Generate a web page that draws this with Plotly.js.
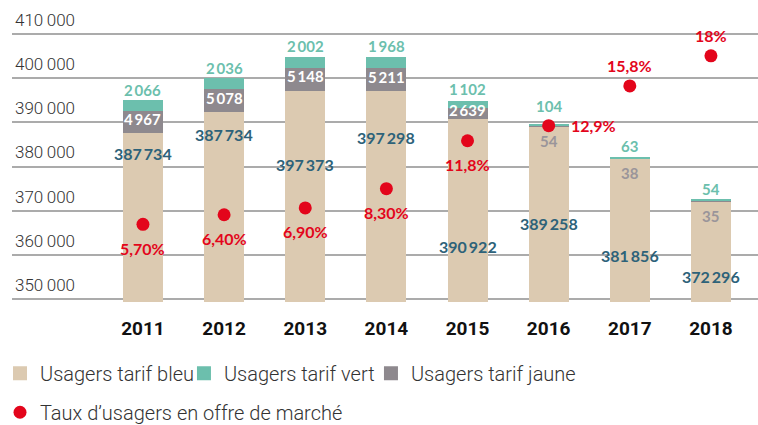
<!DOCTYPE html>
<html><head><meta charset="utf-8">
<script src="https://cdn.plot.ly/plotly-3.0.1.min.js"></script>
<style>html,body{margin:0;padding:0;background:#fff}#chart{width:758px;height:425px}</style>
</head><body><div id="chart"></div>
<script>
// ---- data ----
const years = ['2011', '2012', '2013', '2014', '2015', '2016', '2017', '2018'];
const tarifBleu = [387734, 392600, 397373, 397298, 390922, 389258, 381856, 372296];
const tarifBleuPrinted = [387734, 387734, 397373, 397298, 390922, 389258, 381856, 372296];
const tarifJaune = [4967, 5078, 5148, 5211, 2639, 54, 38, 35];
const tarifVert = [2066, 2036, 2002, 1968, 1102, 104, 63, 54];
const tauxMarche = [5.7, 6.4, 6.9, 8.3, 11.8, 12.9, 15.8, 18];
const tauxLabels = ['5,70%', '6,40%', '6,90%', '8,30%', '11,8%', '12,9%', '15,8%', '18%'];
const yTickVals = [350000, 360000, 370000, 380000, 390000, 400000, 410000];

// ---- label placement (layout only) ----
const bleuLabelShift = [-21, -24, -75, -47, -128, -98, -97, -76];
const vertLabelShift = [11, 11, 12, 12, 13, 19, 12, 11];
const tauxLabelSide = ['below', 'below', 'below', 'below', 'below', 'right', 'above', 'above'];

const C = {bleu: '#dccab1', vert: '#6cbfad', jaune: '#8e898e', red: '#e3051b', blueText: '#2d6279', grayText: '#9a959a'};
const fmt = n => String(n).replace(/\B(?=(\d{3})+(?!\d))/g, '\u2009');

const yMin = 350000, yMax = 410000, plotH = 265;
const numFont = (size, color) => ({family: 'Lato, "Open Sans", sans-serif', size: size, weight: 700, color: color});

const barW = 0.468;
const traces = [
  {type: 'bar', x: years, y: tarifBleu, name: 'Usagers tarif bleu', legend: 'legend', width: barW,
   marker: {color: C.bleu, line: {color: C.bleu, width: 2}}, hoverinfo: 'skip'},
  {type: 'bar', x: years, y: tarifJaune, name: 'Usagers tarif jaune', legend: 'legend4', width: barW,
   marker: {color: C.jaune, line: {color: C.jaune, width: 2}}, hoverinfo: 'skip'},
  {type: 'bar', x: years, y: tarifVert, name: 'Usagers tarif vert', legend: 'legend3', width: barW,
   marker: {color: C.vert, line: {color: C.vert, width: 2}}, hoverinfo: 'skip'},
  {type: 'scatter', mode: 'markers', x: years, y: tauxMarche, yaxis: 'y2', legend: 'legend2',
   name: 'Taux d\u2019usagers en offre de marché', marker: {color: C.red, size: 13}, hoverinfo: 'skip'}
];

const annotations = [];
years.forEach((yr, i) => {
  const top = tarifBleu[i] + tarifJaune[i] + tarifVert[i];
  annotations.push({x: i, y: top, xref: 'x', yref: 'y', text: fmt(tarifVert[i]), showarrow: false,
    yanchor: 'middle', yshift: vertLabelShift[i], font: numFont(15, C.vert)});
  const segPx = tarifJaune[i] / (yMax - yMin) * plotH;
  if (segPx > 8) {
    annotations.push({x: i, y: tarifBleu[i] + tarifJaune[i] / 2, xref: 'x', yref: 'y', text: fmt(tarifJaune[i]),
      showarrow: false, yanchor: 'middle', yshift: 2, font: numFont(15, '#ffffff')});
  } else {
    annotations.push({x: i, y: tarifBleu[i], xref: 'x', yref: 'y', text: fmt(tarifJaune[i]),
      showarrow: false, yanchor: 'middle', yshift: -15, font: numFont(15, C.grayText)});
  }
  annotations.push({x: i, y: tarifBleu[i], xref: 'x', yref: 'y', text: fmt(tarifBleuPrinted[i]), showarrow: false,
    yanchor: 'middle', yshift: bleuLabelShift[i], font: numFont(16, C.blueText)});
  const side = tauxLabelSide[i];
  const a = {x: i, y: tauxMarche[i], xref: 'x', yref: 'y2', text: tauxLabels[i], showarrow: false,
    font: numFont(16, C.red), yanchor: 'middle'};
  if (side === 'below') a.yshift = -24;
  else if (side === 'above') a.yshift = 20;
  else { a.xanchor = 'left'; a.xshift = 20; }
  annotations.push(a);
});

const legendFont = {family: 'Roboto, sans-serif', size: 20, weight: 300, color: '#333333'};
const mkLegend = (x, y) => ({orientation: 'h', xref: 'container', yref: 'container', x: x, y: y,
  yanchor: 'middle', font: legendFont, bgcolor: 'rgba(0,0,0,0)'});

const layout = {
  width: 758, height: 425,
  margin: {l: 12, r: 0, t: 31, b: 123},
  paper_bgcolor: '#ffffff', plot_bgcolor: '#ffffff',
  barmode: 'stack',
  separators: ',\u2009',
  showlegend: true,
  xaxis: {type: 'category', range: [-1.614, 7.58], showgrid: false, zeroline: false, showline: false,
    ticks: '', ticklabelstandoff: 13,
    tickfont: {family: 'Roboto, sans-serif', size: 19, weight: 700, color: '#111111'}},
  yaxis: {range: [349321, 410679], tickmode: 'array', tickvals: yTickVals, tickformat: ',d', ticks: '',
    ticklabelposition: 'inside', ticklabelshift: -14, ticklabeloverflow: 'allow',
    showgrid: true, gridcolor: '#ababab', gridwidth: 2, zeroline: false, showline: false,
    tickfont: {family: 'Roboto, sans-serif', size: 17, weight: 300, color: '#333333'}},
  yaxis2: {overlaying: 'y', range: [0.03, 19.81], visible: false},
  legend: mkLegend(-0.0079, 0.122),
  legend3: mkLegend(0.2427, 0.122),
  legend4: mkLegend(0.4894, 0.122),
  legend2: mkLegend(-0.0053, 0.03),
  annotations: annotations
};

Plotly.newPlot('chart', traces, layout, {displayModeBar: false});
</script>
</body></html>
